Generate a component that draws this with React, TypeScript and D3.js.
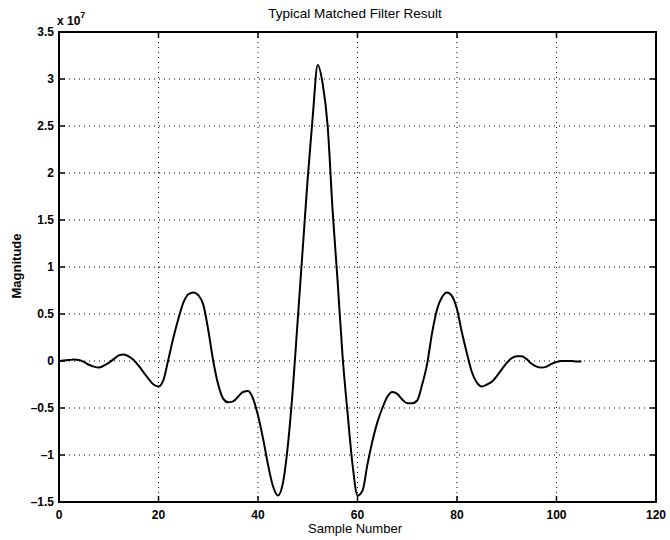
import React, { useRef, useEffect } from 'react';
import * as d3 from 'd3';

// Sample numbers 0..105 and the filter output (units of 1e7)
const sampleNumbers: number[] = d3.range(0, 106);
const magnitude: number[] = [
  0.0, 0.005, 0.01, 0.015, 0.01, -0.01, -0.04, -0.06, -0.07, -0.05,
  -0.02, 0.02, 0.06, 0.07, 0.05, 0.01, -0.05, -0.12, -0.19, -0.25,
  -0.27, -0.2, 0.02, 0.25, 0.45, 0.62, 0.71, 0.73, 0.7, 0.6,
  0.33, 0.0, -0.25, -0.4, -0.44, -0.43, -0.38, -0.33, -0.32, -0.4,
  -0.58, -0.82, -1.1, -1.33, -1.43, -1.3, -0.9, -0.3, 0.45, 1.2,
  1.95, 2.6, 3.15, 2.95, 2.5, 1.6, 0.85, 0.05, -0.55, -1.1,
  -1.43, -1.38, -1.1, -0.85, -0.65, -0.5, -0.38, -0.33, -0.35, -0.41,
  -0.45, -0.45, -0.42, -0.25, -0.03, 0.3, 0.55, 0.68, 0.73, 0.69,
  0.55, 0.3, 0.08, -0.12, -0.23, -0.27, -0.25, -0.22, -0.16, -0.09,
  -0.02, 0.03, 0.05, 0.05, 0.02, -0.03, -0.06, -0.07, -0.06, -0.03,
  -0.01, 0.0, 0.0, 0.0, -0.005, -0.005,
];

const xTicks: number[] = [0, 20, 40, 60, 80, 100, 120];
const yTicks: number[] = [-1.5, -1, -0.5, 0, 0.5, 1, 1.5, 2, 2.5, 3, 3.5];

const App = () => {
  const svgRef = useRef<SVGSVGElement>(null);

  useEffect(() => {
    const svg = d3.select(svgRef.current);
    svg.selectAll('*').remove();

    const left = 59, right = 656, top = 32, bottom = 502;
    const x = d3.scaleLinear().domain([0, 120]).range([left, right]);
    const y = d3.scaleLinear().domain([-1.5, 3.5]).range([bottom, top]);
    const font = 'Liberation Sans, Arial, Helvetica, sans-serif';

    // dotted grid
    const grid = svg.append('g')
      .attr('stroke', '#000')
      .attr('stroke-width', 1)
      .attr('stroke-dasharray', '1,4');
    xTicks.slice(1, -1).forEach(t => {
      grid.append('line')
        .attr('x1', x(t)).attr('x2', x(t))
        .attr('y1', top).attr('y2', bottom);
    });
    yTicks.slice(1, -1).forEach(t => {
      grid.append('line')
        .attr('x1', left).attr('x2', right)
        .attr('y1', y(t)).attr('y2', y(t));
    });

    // inward tick marks on all four sides
    const ticks = svg.append('g').attr('stroke', '#000').attr('stroke-width', 1.5);
    xTicks.forEach(t => {
      ticks.append('line').attr('x1', x(t)).attr('x2', x(t)).attr('y1', bottom).attr('y2', bottom - 6);
      ticks.append('line').attr('x1', x(t)).attr('x2', x(t)).attr('y1', top).attr('y2', top + 6);
    });
    yTicks.forEach(t => {
      ticks.append('line').attr('x1', left).attr('x2', left + 6).attr('y1', y(t)).attr('y2', y(t));
      ticks.append('line').attr('x1', right).attr('x2', right - 6).attr('y1', y(t)).attr('y2', y(t));
    });

    // axes box
    svg.append('rect')
      .attr('x', left).attr('y', top)
      .attr('width', right - left).attr('height', bottom - top)
      .attr('fill', 'none')
      .attr('stroke', '#000')
      .attr('stroke-width', 2);

    // the curve
    const line = d3.line<number>()
      .x((d, i) => x(sampleNumbers[i]))
      .y(d => y(d))
      .curve(d3.curveMonotoneX);

    svg.append('path')
      .datum(magnitude)
      .attr('d', line)
      .attr('fill', 'none')
      .attr('stroke', '#000')
      .attr('stroke-width', 2)
      .attr('stroke-linejoin', 'round');

    const fmt = (t: number) => (t < 0 ? '\u2013' + Math.abs(t) : String(t));

    // tick labels
    svg.append('g').selectAll('text')
      .data(xTicks)
      .enter().append('text')
      .attr('x', d => x(d))
      .attr('y', bottom + 17)
      .attr('text-anchor', 'middle')
      .style('font', `bold 12px ${font}`)
      .text(d => fmt(d));

    svg.append('g').selectAll('text')
      .data(yTicks)
      .enter().append('text')
      .attr('x', left - 5)
      .attr('y', d => y(d) + 4)
      .attr('text-anchor', 'end')
      .style('font', `bold 12px ${font}`)
      .text(d => fmt(d));

    // exponent
    const expo = svg.append('text')
      .attr('x', 57)
      .attr('y', 25)
      .style('font', `bold 12px ${font}`);
    expo.append('tspan').text('x 10');
    expo.append('tspan').attr('dy', -7).style('font-size', '9px').text('7');

    // title and axis labels
    svg.append('text')
      .attr('x', 355)
      .attr('y', 18)
      .attr('text-anchor', 'middle')
      .style('font', `13.5px ${font}`)
      .text('Typical Matched Filter Result');

    svg.append('text')
      .attr('x', 355)
      .attr('y', 533)
      .attr('text-anchor', 'middle')
      .style('font', `13px ${font}`)
      .text('Sample Number');

    svg.append('text')
      .attr('transform', 'translate(21,266) rotate(-90)')
      .attr('text-anchor', 'middle')
      .style('font', `bold 13px ${font}`)
      .text('Magnitude');
  }, []);

  return (
    <svg
      ref={svgRef}
      width={670}
      height={540}
      style={{ position: 'absolute', left: 0, top: 0, background: '#fff' }}
    />
  );
};

export default App;
